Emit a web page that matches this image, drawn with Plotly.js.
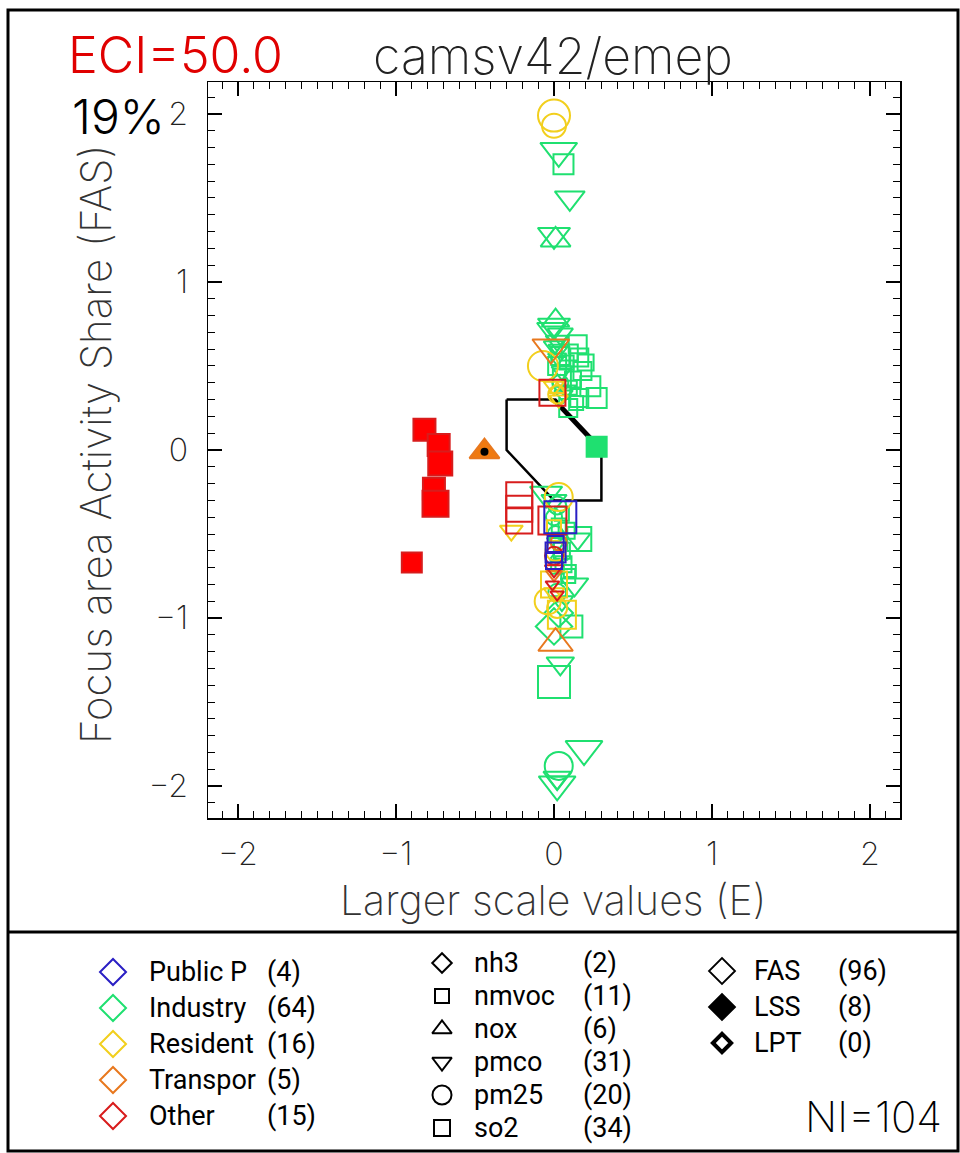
<!DOCTYPE html>
<html><head><meta charset="utf-8">
<script src="https://cdn.plot.ly/plotly-3.0.1.min.js"></script>
<style>html,body{margin:0;padding:0;background:#fff}</style>
</head><body><div id="chart" style="width:960px;height:1153px"></div>
<script>
// ---------- legend / label data ----------
const sectors = ["Public P", "Industry", "Resident", "Transpor", "Other"];
const sectorCounts = [4, 64, 16, 5, 15];
const pollutants = ["nh3", "nmvoc", "nox", "pmco", "pm25", "so2"];
const pollutantCounts = [2, 11, 6, 31, 20, 34];
const pointTypes = ["FAS", "LSS", "LPT"];
const pointTypeCounts = [96, 8, 0];
const eciText = "ECI=50.0";
const modelText = "camsv42/emep";
const pctText = "19%";
const niCount = 104;
const tickVals = [-2, -1, 0, 1, 2];
const tickText = ["\u22122", "\u22121", "0", "1", "2"];

// ---------- point data (x = E, y = FAS, pollutant, marker magnitude, type 0=FAS 1=LSS) ----------
const indX = [0.03,0.06,0.10,0.00,0.01, 0.01,0.00,-0.02,0.04,0.02,0.03, 0.15,0.16,0.04,0.18,0.02,0.05,0.23,0.27,0.16,0.09, 0.05,0.10,0.08,0.04,0.10,0.06, 0.27, -0.05,0.00,0.16,0.15,0.02,0.03,0.01,0.02,0.05,0.10,0.13,0.09, 0.00,0.03,0.11,0.04,0.00,0.05,0.02,0.03,0.06, 0.19,0.03,0.02,0.02,0.02, 0.12,0.02,0.20,0.14,0.00,0.05,0.00,0.08,0.02,0.08];
const indY = [1.78,1.70,1.50,1.28,1.25, 0.77,0.74,0.72,0.69,0.65,0.60, 0.63,0.55,0.56,0.47,0.50,0.43,0.38,0.31,0.31,0.25, 0.47,0.37,0.52,0.40,0.58,0.33, 0.02, -0.26,-0.30,-0.53,-0.53,-0.33,-0.45,-0.50,-0.55,-0.60,-0.72,-0.80,-0.75, -1.05,-0.97,-1.05,-1.27,-1.38,-0.90,-0.85,-0.63,-0.68, -1.78,-1.88,-1.99,-1.97,-1.95, 0.42,0.55,0.52,0.28,-0.40,-0.38,0.62,-0.48,-0.70,0.36];
const indPoll = ["pmco","so2","pmco","pmco","nox", "nox","pmco","pmco","pmco","pmco","pmco", "so2","so2","so2","so2","so2","so2","so2","so2","so2","so2", "pmco","nmvoc","nmvoc","pm25","so2","pmco", "so2", "pmco","pmco","so2","pmco","pm25","nmvoc","pm25","pmco","so2","nmvoc","pmco","so2", "nh3","nh3","so2","pmco","so2","pmco","pm25","nox","so2", "pmco","pm25","pmco","pmco","pmco", "so2","pmco","so2","nmvoc","pm25","nmvoc","pmco","so2","nmvoc","pmco"];
const indMag = [32,20,26,28,26, 24,28,24,22,20,18, 18,18,18,18,18,18,20,20,18,18, 18,14,14,16,16,16, 20, 28,22,24,22,18,14,16,18,16,12,24,14, 28,22,22,24,32,20,18,16,16, 32,28,32,18,24, 16,16,16,14,16,14,18,16,12,16];
const indType = indX.map((v, i) => (i === 27 ? 1 : 0));

const resX = [0.00,0.00,-0.07,0.02,0.03,0.02,0.03,-0.27,0.00,0.00,-0.04,0.05,0.02,0.00,0.00,0.01];
const resY = [1.99,1.93,0.50,0.33,0.30,0.36,-0.28,-0.48,-0.46,-0.80,-0.90,-0.98,-0.94,-0.85,0.38,-0.60];
const resPoll = ["pm25","pm25","pm25","pm25","pmco","nox","pm25","pmco","nmvoc","so2","pm25","so2","pm25","pmco","pmco","pm25"];
const resMag = [32,24,30,18,16,14,28,20,14,26,26,28,20,18,18,20];
const resType = [0,0,0,0,0,0,0,0,0,0,0,0,0,0,0,0];

const traX = [-0.02,-0.44,0.01,0.03,0.00];
const traY = [0.61,-0.01,-1.15,-0.55,-0.74];
const traPoll = ["pmco","nox","nox","pm25","pmco"];
const traMag = [32,26,30,16,14];
const traType = [0,1,0,0,0];

const othX = [-0.82,-0.73,-0.72,-0.76,-0.75,-0.90, -0.01,-0.22,-0.22,-0.22,-0.01,0.00,0.00,-0.01,0.02];
const othY = [0.12,0.03,-0.08,-0.23,-0.32,-0.67, 0.34,-0.27,-0.35,-0.42,-0.42,-0.63,-0.71,-0.80,-0.86];
const othPoll = ["so2","so2","so2","so2","so2","so2", "so2","so2","so2","so2","so2","pm25","pmco","pmco","pmco"];
const othMag = [22,22,24,22,26,20, 26,26,26,26,28,18,16,12,12];
const othType = [1,1,1,1,1,1, 0,0,0,0,0,0,0,0,0];

const pubX = [0.04,0.01,0.01,0.00];
const pubY = [-0.40,-0.56,-0.61,-0.66];
const pubPoll = ["so2","nmvoc","so2","nmvoc"];
const pubMag = [32,16,20,16];
const pubType = [0,0,0,0];

// acceptance polygon
const polyX = [-0.3, 0.0, 0.3, 0.3, 0.0, -0.3, -0.3];
const polyY = [0.3, 0.3, 0.0, -0.3, -0.3, 0.0, 0.3];
const edgeX = [0.0, 0.3];
const edgeY = [0.3, 0.0];

// ---------- styles ----------
const sectorColors = {"Public P":"#2a1fc4","Industry":"#1fe070","Resident":"#f2cf1d","Transpor":"#e8781e","Other":"#d81c1c"};
const lssColors = {"Public P":"#2a1fc4","Industry":"#1fe070","Resident":"#f2cf1d","Transpor":"#f07a10","Other":"#ff0000"};
const symbolMap = {nh3:"diamond", nmvoc:"square", nox:"triangle-up", pmco:"triangle-down", pm25:"circle", so2:"square"};
const thinFont = "Inter, DejaVu Sans, Arial, sans-serif";
const legFont = "Roboto, DejaVu Sans, Arial, sans-serif";

function sectorTrace(name, xs, ys, polls, mags, types) {
  return {
    type: "scatter", mode: "markers", x: xs, y: ys, xaxis: "x", yaxis: "y", hoverinfo: "skip",
    marker: {
      symbol: polls.map((p, i) => symbolMap[p] + (types[i] === 1 ? "" : "-open")),
      size: mags, opacity: 1,
      color: types.map(t => t === 1 ? lssColors[name] : sectorColors[name]),
      line: {width: 2, color: sectorColors[name]}
    },
    name: name
  };
}

const traces = [
  {type:"scatter", mode:"lines", x: polyX, y: polyY, line:{color:"#000", width:2.5}, hoverinfo:"skip"},
  {type:"scatter", mode:"lines", x: edgeX, y: edgeY, line:{color:"#000", width:5}, hoverinfo:"skip"},
  sectorTrace("Industry", indX, indY, indPoll, indMag, indType),
  sectorTrace("Resident", resX, resY, resPoll, resMag, resType),
  sectorTrace("Transpor", traX, traY, traPoll, traMag, traType),
  sectorTrace("Other", othX, othY, othPoll, othMag, othType),
  sectorTrace("Public P", pubX, pubY, pubPoll, pubMag, pubType),
  // black dot on the transport LSS point
  {type:"scatter", mode:"markers", x: traX.filter((v,i)=>traType[i]===1), y: traY.filter((v,i)=>traType[i]===1),
   marker:{symbol:"circle", size:8, color:"#000", opacity:1}, hoverinfo:"skip"}
];

// ---------- legend (pixel overlay axes x2/y2) ----------
const legRowsS = [972, 1008, 1044, 1080, 1116];
sectors.forEach((s, i) => {
  traces.push({type:"scatter", mode:"markers", x:[113], y:[legRowsS[i]], xaxis:"x2", yaxis:"y2", hoverinfo:"skip",
    marker:{symbol:"diamond-open", size:20, color:sectorColors[s], line:{width:2, color:sectorColors[s]}}});
});
const legRowsP = [963, 996, 1029, 1062, 1095, 1128];
const legPollSize = {nh3:15, nmvoc:14, nox:17, pmco:17, pm25:19, so2:16};
pollutants.forEach((p, i) => {
  traces.push({type:"scatter", mode:"markers", x:[442], y:[legRowsP[i]], xaxis:"x2", yaxis:"y2", hoverinfo:"skip",
    marker:{symbol:symbolMap[p] + "-open", size:legPollSize[p], color:"#000", line:{width:2, color:"#000"}}});
});
const legRowsT = [971, 1007, 1043];
const typeSym = ["diamond-open", "diamond", "diamond-open"];
const typeSize = [20, 20, 14];
const typeLine = [1.8, 1.8, 4];
pointTypes.forEach((t, i) => {
  traces.push({type:"scatter", mode:"markers", x:[722], y:[legRowsT[i]], xaxis:"x2", yaxis:"y2", hoverinfo:"skip",
    marker:{symbol:typeSym[i], size:typeSize[i], color:"#000", line:{width:typeLine[i], color:"#000"}}});
});

const ann = [];
function txt(x, y, text, size, opts) {
  ann.push(Object.assign({xref:"x2", yref:"y2", x:x, y:y, text:text, showarrow:false, xanchor:"left", yanchor:"middle",
    font:{family:legFont, size:size, color:"#000"}}, opts || {}));
}
sectors.forEach((s, i) => { txt(147, legRowsS[i], s, 27); txt(265, legRowsS[i], "(" + sectorCounts[i] + ")", 27); });
pollutants.forEach((p, i) => { txt(472, legRowsP[i], p, 27); txt(581, legRowsP[i], "(" + pollutantCounts[i] + ")", 27); });
pointTypes.forEach((t, i) => { txt(752, legRowsT[i], t, 27); txt(836, legRowsT[i], "(" + pointTypeCounts[i] + ")", 27); });
ann.push({xref:"x2", yref:"y2", x:944, y:1116, text:"NI=" + niCount, showarrow:false, xanchor:"right", yanchor:"middle",
  font:{family:thinFont, size:42, color:"#000", weight:200}});
ann.push({xref:"x2", yref:"y2", x:66, y:55, text:eciText, showarrow:false, xanchor:"left", yanchor:"middle",
  font:{family:thinFont, size:50, color:"#e00000", weight:300}});
ann.push({xref:"x2", yref:"y2", x:70, y:116, text:pctText, showarrow:false, xanchor:"left", yanchor:"middle",
  font:{family:thinFont, size:48, color:"#000", weight:300}});
ann.push({xref:"x2", yref:"y2", x:553, y:900, text:"Larger scale values (E)", showarrow:false, xanchor:"center", yanchor:"middle",
  font:{family:thinFont, size:41, color:"#333", weight:200}});
ann.push({xref:"x2", yref:"y2", x:95, y:445, text:"Focus area Activity Share (FAS)", showarrow:false, textangle:-90, xanchor:"center", yanchor:"middle",
  font:{family:thinFont, size:42, color:"#333", weight:200}});

const frameShapes = [
  {type:"rect", xref:"x2", yref:"y2", x0:8, x1:958, y0:10, y1:1151, line:{color:"#000", width:3}},
  {type:"line", xref:"x2", yref:"y2", x0:8, x1:958, y0:932, y1:932, line:{color:"#000", width:3}}
];

const axisCommon = {
  tickvals: tickVals, ticktext: tickText, ticks: "inside", ticklen: 14, tickwidth: 1.2, tickcolor: "#000",
  minor: {tick0: 0, dtick: 0.1, ticks: "inside", ticklen: 7, tickwidth: 1, tickcolor: "#000", showgrid:false},
  mirror: "ticks", showline: true, linecolor: "#000", linewidth: 1.5, showgrid: false, zeroline: false,
  tickfont: {family: thinFont, size: 32, color: "#222", weight: 200}, fixedrange: true
};

const layout = {
  width: 960, height: 1153, margin: {l:0, r:0, t:0, b:0}, showlegend: false,
  paper_bgcolor: "#fff", plot_bgcolor: "rgba(0,0,0,0)",
  title: {text: modelText, x: 553/960, y: 1 - 56/1153, xanchor: "center", yanchor: "middle",
          font: {family: thinFont, size: 50, color: "#222", weight: 200}},
  xaxis: Object.assign({}, axisCommon, {domain: [208/960, 900/960], range: [-2.19, 2.19], anchor: "y", ticklabelstandoff: 7}),
  yaxis: Object.assign({}, axisCommon, {domain: [1 - 818/1153, 1 - 82/1153], range: [-2.19, 2.19], anchor: "x", ticklabelstandoff: 12}),
  xaxis2: {domain: [0, 1], range: [0, 960], anchor: "y2", visible: false, fixedrange: true},
  yaxis2: {domain: [0, 1], range: [1153, 0], anchor: "x2", visible: false, fixedrange: true},
  shapes: frameShapes,
  annotations: ann
};

Plotly.newPlot("chart", traces, layout, {staticPlot: true, displayModeBar: false});
</script></body></html>
